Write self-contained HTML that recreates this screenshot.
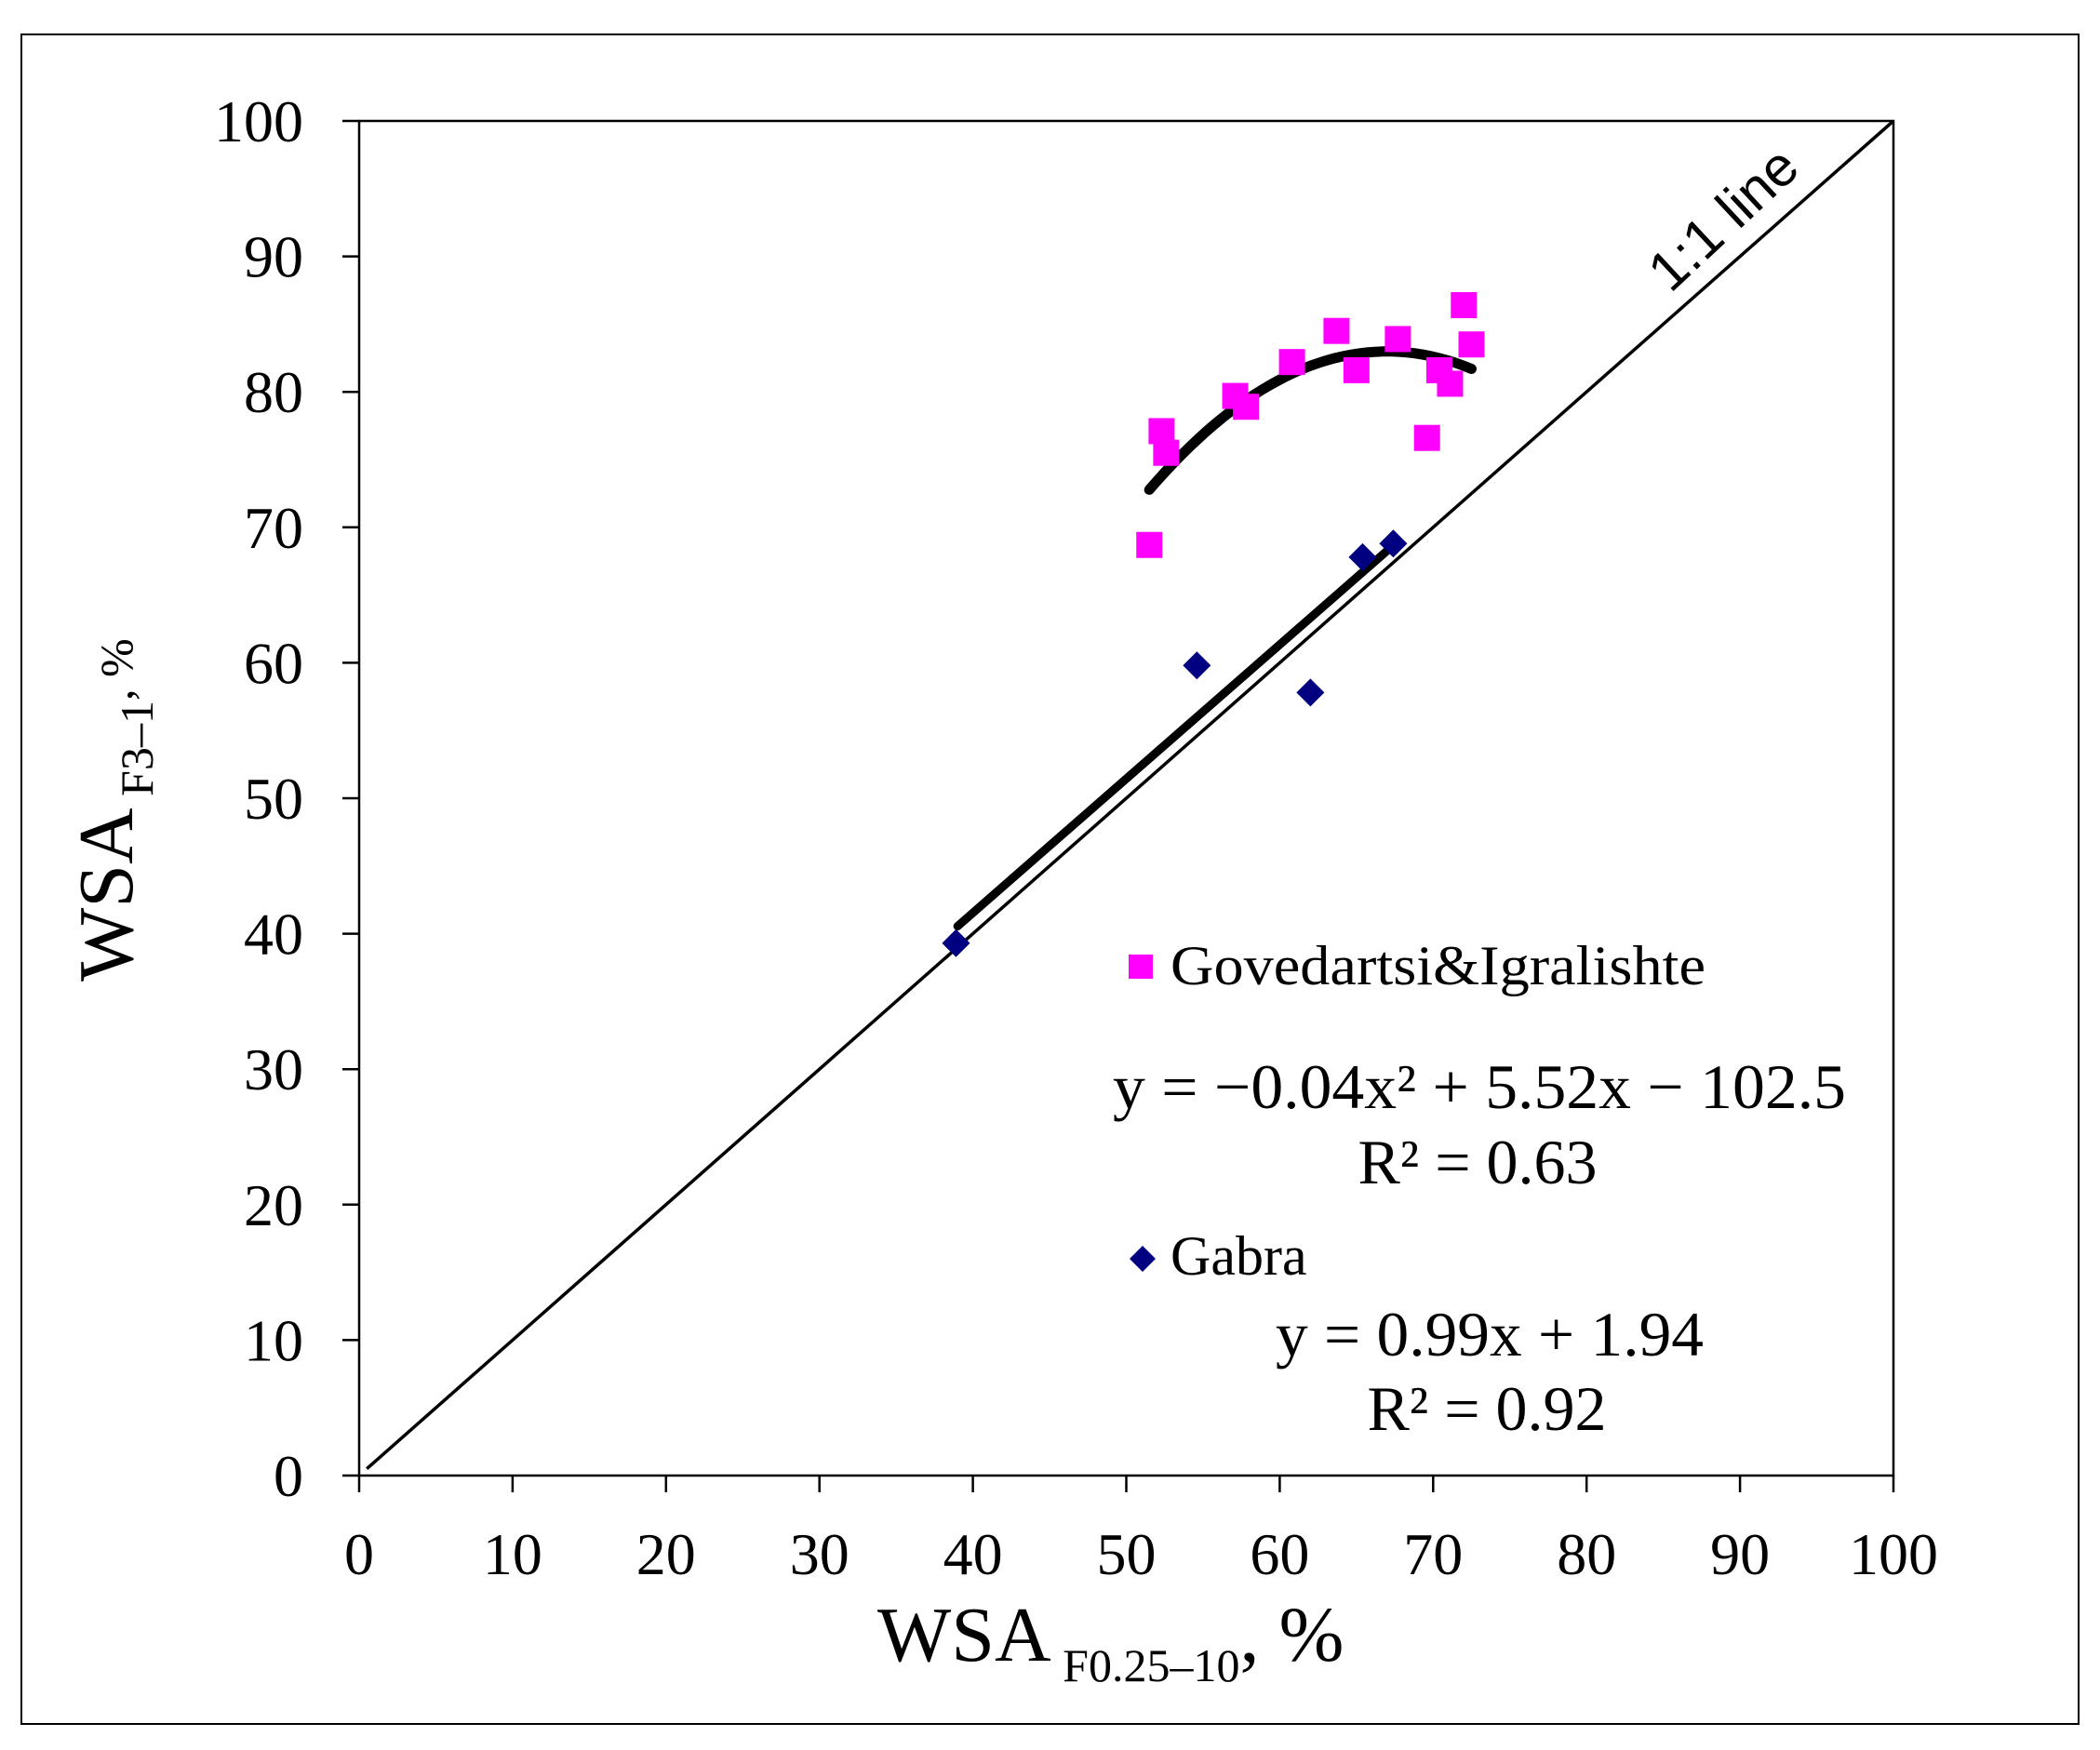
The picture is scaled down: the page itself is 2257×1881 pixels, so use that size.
<!DOCTYPE html>
<html><head><meta charset="utf-8"><style>
html,body{margin:0;padding:0;background:#fff;}
svg{display:block;font-family:"Liberation Serif",serif;}
</style></head><body>
<svg id="chart" width="2257" height="1881" viewBox="0 0 2257 1881" xmlns="http://www.w3.org/2000/svg">
<rect x="23" y="37" width="2211" height="1816" fill="#fff" stroke="#000" stroke-width="2"/>
<g id="plot"></g>
</svg>
<script>
const xTicks=[0,10,20,30,40,50,60,70,80,90,100];
const yTicks=[0,10,20,30,40,50,60,70,80,90,100];
const pinkX=[51.5,52.3,52.6,57.1,57.8,60.8,63.7,65.0,67.7,69.6,70.4,71.1,72.0,72.5];
const pinkY=[68.7,77.1,75.5,79.7,78.9,82.2,84.5,81.6,83.9,76.6,81.6,80.6,86.4,83.5];
const blueX=[38.9,54.6,62.0,65.4,67.4];
const blueY=[39.3,59.8,57.8,67.8,68.8];
const quadCoef=[-0.0425,5.695,-107.8];
const quadRange=[51.5,72.5];
const linCoef=[0.99,1.94];
const linRange=[39,67.3];

const X0=386,X1=2035,Y0=1586,Y1=130;
const sx=v=>X0+(v-0)/100*(X1-X0);
const sy=v=>Y0-(v-0)/100*(Y0-Y1);
const NS="http://www.w3.org/2000/svg";
const g=document.getElementById('plot');
function mk(t,a,txt){const e=document.createElementNS(NS,t);for(const k in a)e.setAttribute(k,a[k]);if(txt!==undefined)e.textContent=txt;g.appendChild(e);return e;}

let e=mk('rect',{x:X0,y:Y1,width:X1-X0,height:Y0-Y1,fill:'none',stroke:'#000','stroke-width':2.5});


xTicks.forEach(v=>{
  let t=mk('line',{x1:sx(v),x2:sx(v),y1:Y0,y2:Y0+18,stroke:'#000','stroke-width':2.5});
  
  
  let l=mk('text',{x:sx(v),y:Y0+106,'font-size':64,'text-anchor':'middle'},String(v));
  
  
});
yTicks.forEach(v=>{
  let t=mk('line',{x1:X0-18,x2:X0,y1:sy(v),y2:sy(v),stroke:'#000','stroke-width':2.5});
  
  
  let l=mk('text',{x:X0-60,y:sy(v)+22,'font-size':64,'text-anchor':'end'},String(v));
  
  
});
e=mk('line',{x1:sx(0.5),y1:sy(0.5),x2:sx(100),y2:sy(100),stroke:'#000','stroke-width':3.5});


e=mk('text',{x:0,y:0,'font-size':60,'font-family':'Liberation Sans, sans-serif','text-anchor':'middle',transform:'translate(1866,250) rotate(-43)'},'1:1 line');


e=mk('line',{x1:sx(linRange[0]),y1:sy(linCoef[0]*linRange[0]+linCoef[1]),x2:sx(linRange[1]),y2:sy(linCoef[0]*linRange[1]+linCoef[1]),stroke:'#000','stroke-width':9,'stroke-linecap':'round'});


let d='';
for(let i=0;i<=40;i++){const x=quadRange[0]+(quadRange[1]-quadRange[0])*i/40;const y=quadCoef[0]*x*x+quadCoef[1]*x+quadCoef[2];d+=(i?'L':'M')+sx(x).toFixed(1)+','+sy(y).toFixed(1);}
e=mk('path',{d:d,fill:'none',stroke:'#000','stroke-width':11,'stroke-linecap':'round'});


pinkX.forEach((x,i)=>{
  let p=mk('rect',{x:sx(x)-14,y:sy(pinkY[i])-14,width:28,height:28,fill:'#ff00ff'});
  
  
});
blueX.forEach((x,i)=>{
  const cx=sx(x),cy=sy(blueY[i]);
  let p=mk('polygon',{points:`${cx},${cy-15} ${cx+15},${cy} ${cx},${cy+15} ${cx-15},${cy}`,fill:'#000080'});
  
  
});
e=mk('rect',{x:1213,y:1026,width:26,height:26,fill:'#ff00ff'});


e=mk('text',{x:1258,y:1058,'font-size':60,textLength:575,lengthAdjust:'spacingAndGlyphs'},'Govedartsi&Igralishte');


e=mk('text',{x:1196,y:1191,'font-size':68,textLength:788,lengthAdjust:'spacingAndGlyphs'},'y = −0.04x² + 5.52x − 102.5');


e=mk('text',{x:1588,y:1272,'font-size':68,'text-anchor':'middle'},'R² = 0.63');


e=mk('polygon',{points:'1228,1339 1242,1353 1228,1367 1214,1353',fill:'#000080'});


e=mk('text',{x:1258,y:1370,'font-size':60},'Gabra');


e=mk('text',{x:1601,y:1457,'font-size':68,'text-anchor':'middle',textLength:460,lengthAdjust:'spacingAndGlyphs'},'y = 0.99x + 1.94');


e=mk('text',{x:1598,y:1537,'font-size':68,'text-anchor':'middle'},'R² = 0.92');


e=mk('text',{x:943,y:1785,'font-size':84},'');


e.innerHTML='WSA<tspan font-size="50" dy="22"> F0.25–10</tspan><tspan dy="-22">, </tspan><tspan font-size="84">%</tspan>';
e=mk('text',{x:0,y:0,'font-size':84,transform:'translate(142,1055) rotate(-90)'},'');


e.innerHTML='WSA<tspan font-size="50" dy="22"> F3–1</tspan><tspan font-size="50" dy="-22">, %</tspan>';
</script>
</body></html>
